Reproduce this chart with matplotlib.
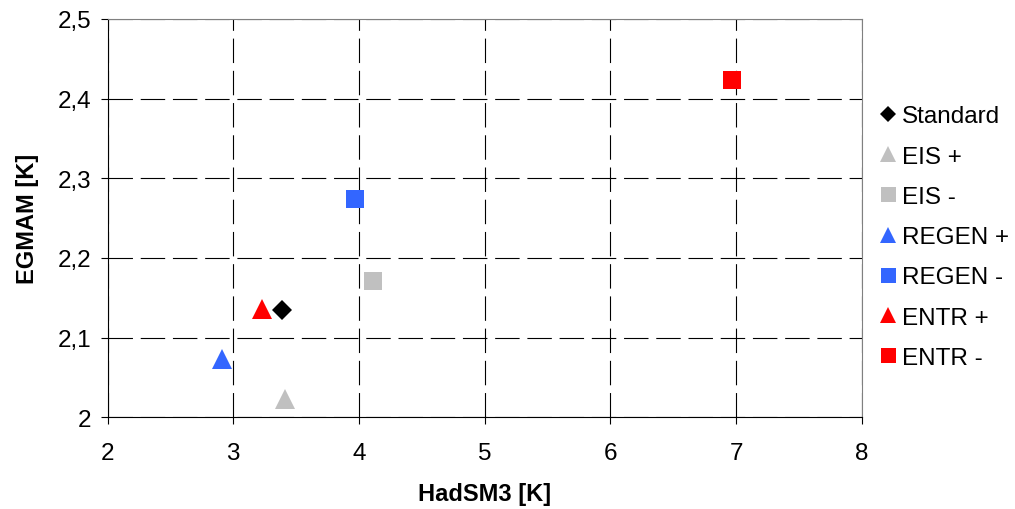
import matplotlib
matplotlib.use("Agg")
import matplotlib.pyplot as plt
from matplotlib.ticker import FuncFormatter, MultipleLocator

plt.rcParams['font.family'] = ['Liberation Sans', 'DejaVu Sans']

# experiments: HadSM3 vs EGMAM climate sensitivity
labels = ["Standard", "EIS +", "EIS -", "REGEN +", "REGEN -", "ENTR +", "ENTR -"]
hadsm3 = [3.39, 3.41, 4.11, 2.91, 3.97, 3.23, 6.97]
egmam = [2.134, 2.023, 2.171, 2.073, 2.274, 2.136, 2.423]
colors = ["#000000", "#C0C0C0", "#C0C0C0", "#3366FF", "#3366FF", "#FF0000", "#FF0000"]
markers = ["D", "^", "s", "^", "s", "^", "s"]
msizes = {"D": 10.2, "^": 14.4, "s": 13.5}

fig = plt.figure(figsize=(10.15, 5.1), dpi=100)
ax = fig.add_axes([0.106, 0.18, 0.743, 0.781])

for x, y, c, m, lab in zip(hadsm3, egmam, colors, markers, labels):
    ax.plot(x, y, linestyle="none", marker=m, color=c, markersize=msizes[m],
            markeredgewidth=0, label=lab, zorder=3)

ax.set_xlim(2, 8)
ax.set_ylim(2, 2.5)
ax.xaxis.set_major_locator(MultipleLocator(1))
ax.yaxis.set_major_locator(MultipleLocator(0.1))
fmt = FuncFormatter(lambda v, p: f"{v:g}".replace(".", ","))
ax.xaxis.set_major_formatter(fmt)
ax.yaxis.set_major_formatter(fmt)

ax.grid(True, color="black", linewidth=0.8, linestyle=(0, (22, 7)))
ax.set_axisbelow(True)

for s in ["top", "right"]:
    ax.spines[s].set_color("#808080")
for s in ["left", "bottom"]:
    ax.spines[s].set_color("black")
ax.tick_params(axis="both", direction="out", length=5, width=0.8, labelsize=17.5)
ax.tick_params(axis="x", pad=13)
ax.tick_params(axis="y", pad=7)

ax.set_xlabel("HadSM3 [K]", fontsize=17, fontweight="bold", labelpad=13)
ax.set_ylabel("EGMAM [K]", fontsize=17, fontweight="bold", labelpad=13)

ax.legend(loc="upper left", bbox_to_anchor=(1.023, 0.783), frameon=False,
          fontsize=17.5, markerscale=0.8, handlelength=0.7, handletextpad=0.25,
          labelspacing=0.75, borderaxespad=0, borderpad=0)

fig.savefig("out.png", dpi=100)
